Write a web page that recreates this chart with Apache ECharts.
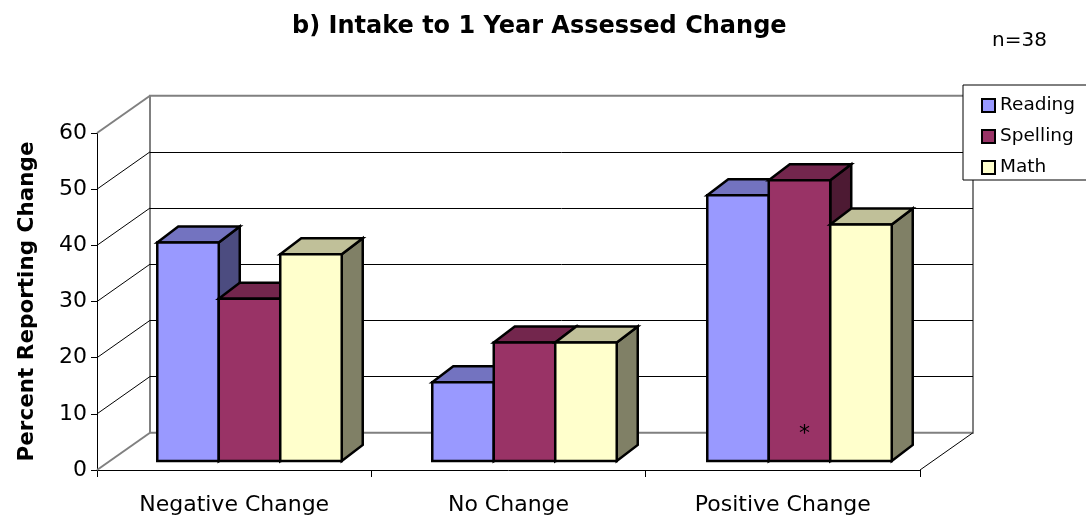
<!DOCTYPE html>
<html>
<head>
<meta charset="utf-8">
<script src="https://cdn.jsdelivr.net/npm/echarts@6/dist/echarts.min.js"></script>
<style>
  html, body { margin: 0; padding: 0; background: #fff; }
  #chart { width: 1086px; height: 521px; }
</style>
</head>
<body>
<div id="chart"></div>
<script>
// Percent of students reporting each kind of change, intake to 1 year
const categories = ['Negative Change', 'No Change', 'Positive Change'];
const reading = [38.9, 14.0, 47.3];
const spelling = [28.9, 21.1, 50.0];
const math = [36.8, 21.1, 42.1];
const spellingNotes = ['', '', '*'];
const yTicks = [0, 10, 20, 30, 40, 50, 60];

const FONT = 'DejaVu Sans';

// Oblique depth of the walls and of each column
const WALL_DX = 53, WALL_DY = 37.3;
const BAR_DX = 21, BAR_DY = 16;

// front plane (axes), column front faces, back wall
const frontGrid = { left: 97, top: 133, width: 823, height: 337 };
const barGrid = { left: 112, top: 124, width: 825, height: 337 };
const backGrid = { left: frontGrid.left + WALL_DX, top: frontGrid.top - WALL_DY, width: 823, height: 337 };

const palette = {
  Reading: { front: '#9999FF', top: '#7373C0', side: '#4C4C80' },
  Spelling: { front: '#993366', top: '#73264D', side: '#4D1A33' },
  Math: { front: '#FFFFCC', top: '#C0C099', side: '#808066' }
};

function columnSeries(name, values, slot, notes) {
  const col = palette[name];
  return {
    type: 'custom',
    name: name,
    xAxisIndex: 1,
    yAxisIndex: 1,
    z: 3,
    silent: true,
    itemStyle: { color: col.front, borderColor: '#000', borderWidth: 2 },
    data: values.map((v, i) => [i, v]),
    encode: { x: 0, y: 1 },
    renderItem: function (params, api) {
      const i = api.value(0);
      const v = api.value(1);
      const topPt = api.coord([i, v]);
      const basePt = api.coord([i, 0]);
      const band = params.coordSys.width / categories.length;
      const w = band * 0.2236;
      const x0 = topPt[0] + (slot - 1.5) * w;
      const x1 = x0 + w;
      const yT = topPt[1];
      const yB = basePt[1];
      const edge = { stroke: '#000', lineWidth: 2.5, lineJoin: 'miter' };
      const children = [
        {
          type: 'polygon',
          shape: { points: [[x1, yT], [x1 + BAR_DX, yT - BAR_DY], [x1 + BAR_DX, yB - BAR_DY], [x1, yB]] },
          style: Object.assign({ fill: col.side }, edge)
        },
        {
          type: 'polygon',
          shape: { points: [[x0, yT], [x0 + BAR_DX, yT - BAR_DY], [x1 + BAR_DX, yT - BAR_DY], [x1, yT]] },
          style: Object.assign({ fill: col.top }, edge)
        },
        {
          type: 'rect',
          shape: { x: x0, y: yT, width: w, height: yB - yT },
          style: Object.assign({ fill: col.front }, edge)
        }
      ];
      if (notes && notes[i]) {
        children.push({
          type: 'text',
          style: {
            text: notes[i], x: (x0 + x1) / 2 + 5, y: yB - 27,
            align: 'center', verticalAlign: 'middle',
            font: '22px ' + FONT, fill: '#000'
          }
        });
      }
      return { type: 'group', children: children };
    }
  };
}

// side wall and floor edges joining the front axes to the back wall
const wallSeries = {
  type: 'custom',
  xAxisIndex: 0,
  yAxisIndex: 0,
  z: 1,
  silent: true,
  data: yTicks.map(t => [0, t]),
  encode: { x: 0, y: 1 },
  renderItem: function (params, api) {
    const cs = params.coordSys;
    const v = api.value(1);
    const y = api.coord([0, v])[1];
    const outer = v === yTicks[0] || v === yTicks[yTicks.length - 1];
    const children = [{
      type: 'line',
      shape: { x1: cs.x, y1: y, x2: cs.x + WALL_DX, y2: y - WALL_DY },
      style: { stroke: outer ? '#808080' : '#000', lineWidth: outer ? 2 : 1 }
    }];
    if (v === yTicks[0]) {
      children.push({
        type: 'line',
        shape: { x1: cs.x + cs.width, y1: y, x2: cs.x + cs.width + WALL_DX, y2: y - WALL_DY },
        style: { stroke: '#000', lineWidth: 1 }
      });
    }
    return { type: 'group', children: children };
  }
};

const chart = echarts.init(document.getElementById('chart'), null, { renderer: 'canvas' });

chart.setOption({
  animation: false,
  backgroundColor: '#fff',
  textStyle: { fontFamily: FONT },
  title: [
    {
      text: 'b) Intake to 1 Year Assessed Change',
      left: 287, top: 10,
      textStyle: { fontSize: 24, fontWeight: 'bold', color: '#000', fontFamily: FONT }
    },
    {
      text: 'n=38',
      left: 987, top: 26,
      textStyle: { fontSize: 20, fontWeight: 'normal', color: '#000', fontFamily: FONT }
    }
  ],
  legend: {
    orient: 'vertical',
    left: 963, top: 85,
    data: ['Reading', 'Spelling', 'Math'],
    icon: 'rect',
    itemWidth: 13, itemHeight: 13, itemGap: 12,
    padding: [11, 30, 3, 18],
    backgroundColor: '#fff',
    borderColor: '#000', borderWidth: 1, borderRadius: 0,
    itemStyle: { borderColor: '#000', borderWidth: 2 },
    textStyle: { fontSize: 18.5, color: '#000', fontFamily: FONT },
    selectedMode: false
  },
  grid: [
    Object.assign({ containLabel: false }, frontGrid),
    Object.assign({ containLabel: false }, barGrid),
    Object.assign({ containLabel: false, show: true, backgroundColor: '#fff', borderColor: '#808080', borderWidth: 2, z: 0 }, backGrid)
  ],
  xAxis: [
    {
      gridIndex: 0, type: 'category', data: categories,
      axisLine: { show: true, lineStyle: { color: '#000', width: 1 } },
      axisTick: { show: true, length: 7, interval: 0, alignWithLabel: false, lineStyle: { color: '#000' } },
      axisLabel: { fontSize: 22, color: '#000', margin: 24, interval: 0, fontFamily: FONT },
      splitLine: { show: false }
    },
    { gridIndex: 1, type: 'category', data: categories, show: false },
    { gridIndex: 2, type: 'category', data: categories, show: false }
  ],
  yAxis: [
    {
      gridIndex: 0, type: 'value', min: 0, max: 60, interval: 10,
      name: 'Percent Reporting Change', nameLocation: 'middle', nameGap: 59,
      nameTextStyle: { fontSize: 21.5, fontWeight: 'bold', color: '#000', fontFamily: FONT },
      axisLine: { show: true, lineStyle: { color: '#000', width: 1 } },
      axisTick: { show: true, length: 6, lineStyle: { color: '#000' } },
      axisLabel: { fontSize: 22, color: '#000', margin: 10, fontFamily: FONT },
      splitLine: { show: false }
    },
    { gridIndex: 1, type: 'value', min: 0, max: 60, interval: 10, show: false },
    {
      gridIndex: 2, type: 'value', min: 0, max: 60, interval: 10,
      axisLine: { show: false }, axisTick: { show: false }, axisLabel: { show: false },
      splitLine: { show: true, showMinLine: false, showMaxLine: false, lineStyle: { color: '#000', width: 1 } }
    }
  ],
  series: [
    wallSeries,
    columnSeries('Reading', reading, 0),
    columnSeries('Spelling', spelling, 1, spellingNotes),
    columnSeries('Math', math, 2)
  ]
});
</script>
</body>
</html>
